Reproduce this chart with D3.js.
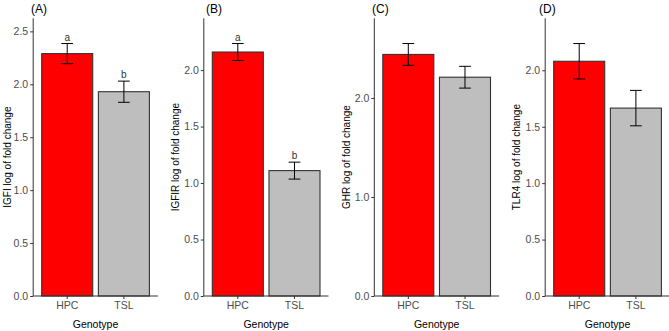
<!DOCTYPE html>
<html>
<head>
<meta charset="utf-8">
<script src="https://cdn.jsdelivr.net/npm/d3@7"></script>
<style>
  html, body { margin: 0; padding: 0; background: #fff; }
  svg { display: block; font-family: "Liberation Sans", Arial, sans-serif; }
</style>
</head>
<body>
<svg id="chart" width="669" height="331"></svg>
<script>
// ---- data ----
const panelTags = ["(A)", "(B)", "(C)", "(D)"];
const genes = ["IGFI", "IGFIR", "GHR", "TLR4"];
const categories = ["HPC", "TSL"];
const hpcMean = [2.29, 2.16, 2.44, 2.08];
const tslMean = [1.93, 1.11, 2.21, 1.665];
const hpcSE = [0.095, 0.075, 0.11, 0.157];
const tslSE = [0.10, 0.075, 0.11, 0.157];
const hpcLetter = ["a", "a", "", ""];
const tslLetter = ["b", "b", "", ""];
const yTicks = [
  [0, 0.5, 1.0, 1.5, 2.0, 2.5],
  [0, 0.5, 1.0, 1.5, 2.0],
  [0, 1.0, 2.0],
  [0, 0.5, 1.0, 1.5, 2.0]
];
const barColors = ["#ff0000", "#bebebe"];

// ---- layout ----
const plotLeft = [33.2, 203.8, 374.3, 545.2];
const yTitleOffset = [26, 28, 28, 28.5];
const tagX = [31, 206, 372, 539];
const plotW = 124.7;
const plotTop = 18.3, plotBottom = 296;

const svg = d3.select("#chart");

genes.forEach((gene, i) => {
  const data = categories.map((c, j) => ({
    cat: c,
    mean: j === 0 ? hpcMean[i] : tslMean[i],
    se: j === 0 ? hpcSE[i] : tslSE[i],
    letter: j === 0 ? hpcLetter[i] : tslLetter[i],
    color: barColors[j]
  }));
  const yMax = 1.1 * d3.max(data, d => d.mean + d.se);
  const x = d3.scaleBand().domain(categories)
    .range([plotLeft[i], plotLeft[i] + plotW])
    .paddingInner(0.1).paddingOuter(0.15);
  const y = d3.scaleLinear().domain([0, yMax]).range([plotBottom, plotTop]);

  const g = svg.append("g");

  // bars
  g.selectAll("rect.bar").data(data).enter().append("rect")
    .attr("class", "bar")
    .attr("x", d => x(d.cat))
    .attr("width", x.bandwidth())
    .attr("y", d => y(d.mean))
    .attr("height", d => y(0) - y(d.mean))
    .attr("fill", d => d.color)
    .attr("stroke", "#333")
    .attr("stroke-width", 1.1);

  // error bars
  const capW = x.bandwidth() * 0.23;
  const eb = g.selectAll("g.eb").data(data).enter().append("g").attr("class", "eb")
    .attr("stroke", "#000").attr("stroke-width", 1);
  eb.append("line")
    .attr("x1", d => x(d.cat) + x.bandwidth() / 2)
    .attr("x2", d => x(d.cat) + x.bandwidth() / 2)
    .attr("y1", d => y(d.mean + d.se))
    .attr("y2", d => y(d.mean - d.se));
  eb.append("line")
    .attr("x1", d => x(d.cat) + x.bandwidth() / 2 - capW / 2)
    .attr("x2", d => x(d.cat) + x.bandwidth() / 2 + capW / 2)
    .attr("y1", d => y(d.mean + d.se))
    .attr("y2", d => y(d.mean + d.se));
  eb.append("line")
    .attr("x1", d => x(d.cat) + x.bandwidth() / 2 - capW / 2)
    .attr("x2", d => x(d.cat) + x.bandwidth() / 2 + capW / 2)
    .attr("y1", d => y(d.mean - d.se))
    .attr("y2", d => y(d.mean - d.se));

  // letters
  g.selectAll("text.letter").data(data.filter(d => d.letter)).enter().append("text")
    .attr("class", "letter")
    .attr("x", d => x(d.cat) + x.bandwidth() / 2)
    .attr("y", d => y(d.mean + d.se) - 3)
    .attr("text-anchor", "middle")
    .attr("font-size", 10)
    .attr("fill", "#333")
    .text(d => d.letter);

  // y axis
  const yAxis = g.append("g")
    .attr("transform", `translate(${plotLeft[i]},0)`)
    .call(d3.axisLeft(y).tickValues(yTicks[i]).tickFormat(d3.format(".1f")).tickSize(3).tickPadding(2));
  yAxis.select(".domain").attr("d", `M0,${plotBottom}V${plotTop}`).attr("stroke", "#333");
  yAxis.selectAll(".tick line").attr("stroke", "#333");
  yAxis.selectAll(".tick text").attr("fill", "#4d4d4d").attr("font-size", 10.5)
    .attr("font-family", "Liberation Sans, Arial, sans-serif");

  // x axis
  const xAxis = g.append("g")
    .attr("transform", `translate(0,${plotBottom})`)
    .call(d3.axisBottom(x).tickSize(3).tickPadding(3));
  xAxis.select(".domain").attr("d", `M${plotLeft[i]},0H${plotLeft[i] + plotW}`).attr("stroke", "#333");
  xAxis.selectAll(".tick line").attr("stroke", "#333");
  xAxis.selectAll(".tick text").attr("fill", "#4d4d4d").attr("font-size", 10.5)
    .attr("font-family", "Liberation Sans, Arial, sans-serif");

  // axis titles
  g.append("text")
    .attr("x", plotLeft[i] + plotW / 2)
    .attr("y", 327.5)
    .attr("text-anchor", "middle")
    .attr("font-size", 10.5)
    .attr("fill", "#000")
    .text("Genotype");
  g.append("text")
    .attr("transform", `translate(${plotLeft[i] - yTitleOffset[i] + 3.5},${(plotTop + plotBottom) / 2}) rotate(-90)`)
    .attr("text-anchor", "middle")
    .attr("font-size", 10)
    .attr("fill", "#000")
    .text(`${gene} log of fold change`);

  // panel tag
  g.append("text")
    .attr("x", tagX[i])
    .attr("y", 13)
    .attr("font-size", 12)
    .attr("fill", "#000")
    .text(panelTags[i]);
});
</script>
</body>
</html>
